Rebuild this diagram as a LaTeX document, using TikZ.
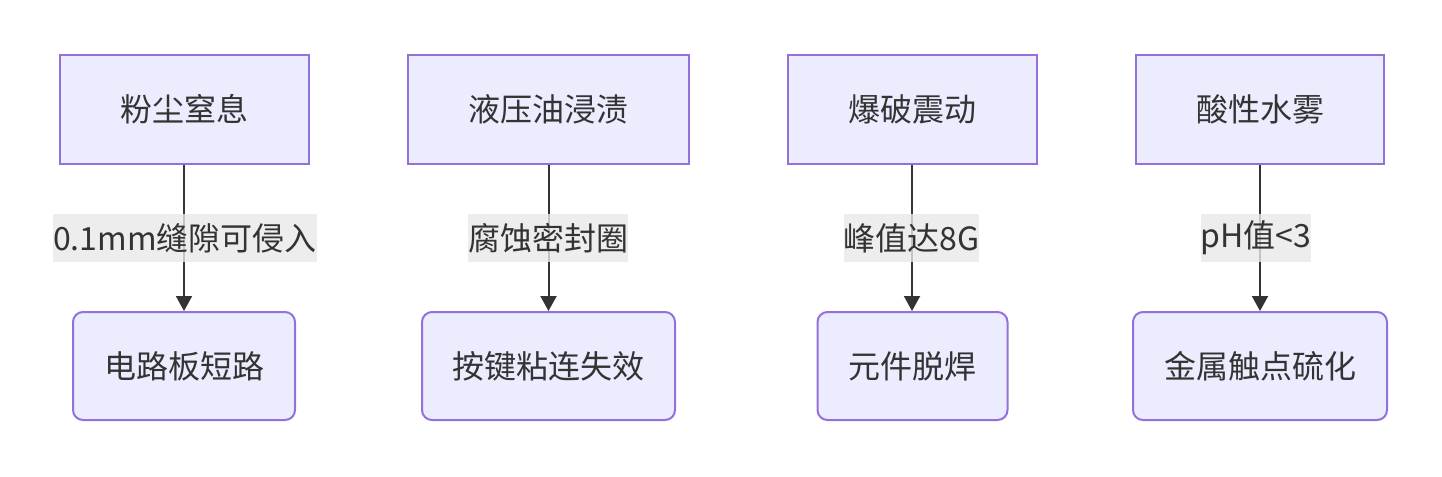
\documentclass[tikz,border=0pt]{standalone}
\usepackage{fontspec}
\setmainfont{Noto Sans CJK SC}
\usetikzlibrary{arrows.meta}
\definecolor{boxfill}{HTML}{ECECFF}
\definecolor{boxdraw}{HTML}{9370DB}
\definecolor{ink}{HTML}{333333}
\definecolor{lblbg}{HTML}{E8E8E8}
\tikzset{
  cause/.style={draw=boxdraw, fill=boxfill, line width=1.5pt, text=ink, font=\fontsize{24pt}{28pt}\selectfont, minimum height=81.75pt, inner sep=0pt},
  effect/.style={cause, rounded corners=7.5pt, minimum height=81pt},
  lbl/.style={fill=lblbg, fill opacity=0.8, text opacity=1, text=ink, font=\fontsize{24pt}{28pt}\selectfont, minimum height=36pt, inner xsep=0pt, inner ysep=0pt},
  conn/.style={draw=ink, line width=1.5pt, -{Triangle[length=11.25pt,width=12pt]}}
}
\begin{document}
\begin{tikzpicture}[x=0.75pt,y=-0.75pt]
\useasboundingbox (0,0) rectangle (1442,476);
\node[cause, minimum width=186.75pt] (c1) at (184,109.5) {粉尘窒息};
\node[cause, minimum width=210.75pt] (c2) at (548.5,109.5) {液压油浸渍};
\node[cause, minimum width=186.75pt] (c3) at (912,109.5) {爆破震动};
\node[cause, minimum width=186pt] (c4) at (1260,109.5) {酸性水雾};
\node[effect, minimum width=166.5pt] (e1) at (184,366) {电路板短路};
\node[effect, minimum width=189.75pt] (e2) at (548.5,366) {按键粘连失效};
\node[effect, minimum width=142.5pt] (e3) at (912.5,366) {元件脱焊};
\node[effect, minimum width=190.5pt] (e4) at (1260,366) {金属触点硫化};
\draw[conn] (c1) -- (c1 |- e1.north);
\draw[conn] (c2) -- (c2 |- e2.north);
\draw[conn] (c3) -- (c3 |- e3.north);
\draw[conn] (c4) -- (c4 |- e4.north);
\node[lbl] (l1) at (185,238) {0.1mm缝隙可侵入};
\node[lbl] (l2) at (548,238) {腐蚀密封圈};
\node[lbl] (l3) at (911.5,238) {峰值达8G};
\node[lbl] (l4) at (1256,238) {pH值<3};
\end{tikzpicture}
\end{document}
